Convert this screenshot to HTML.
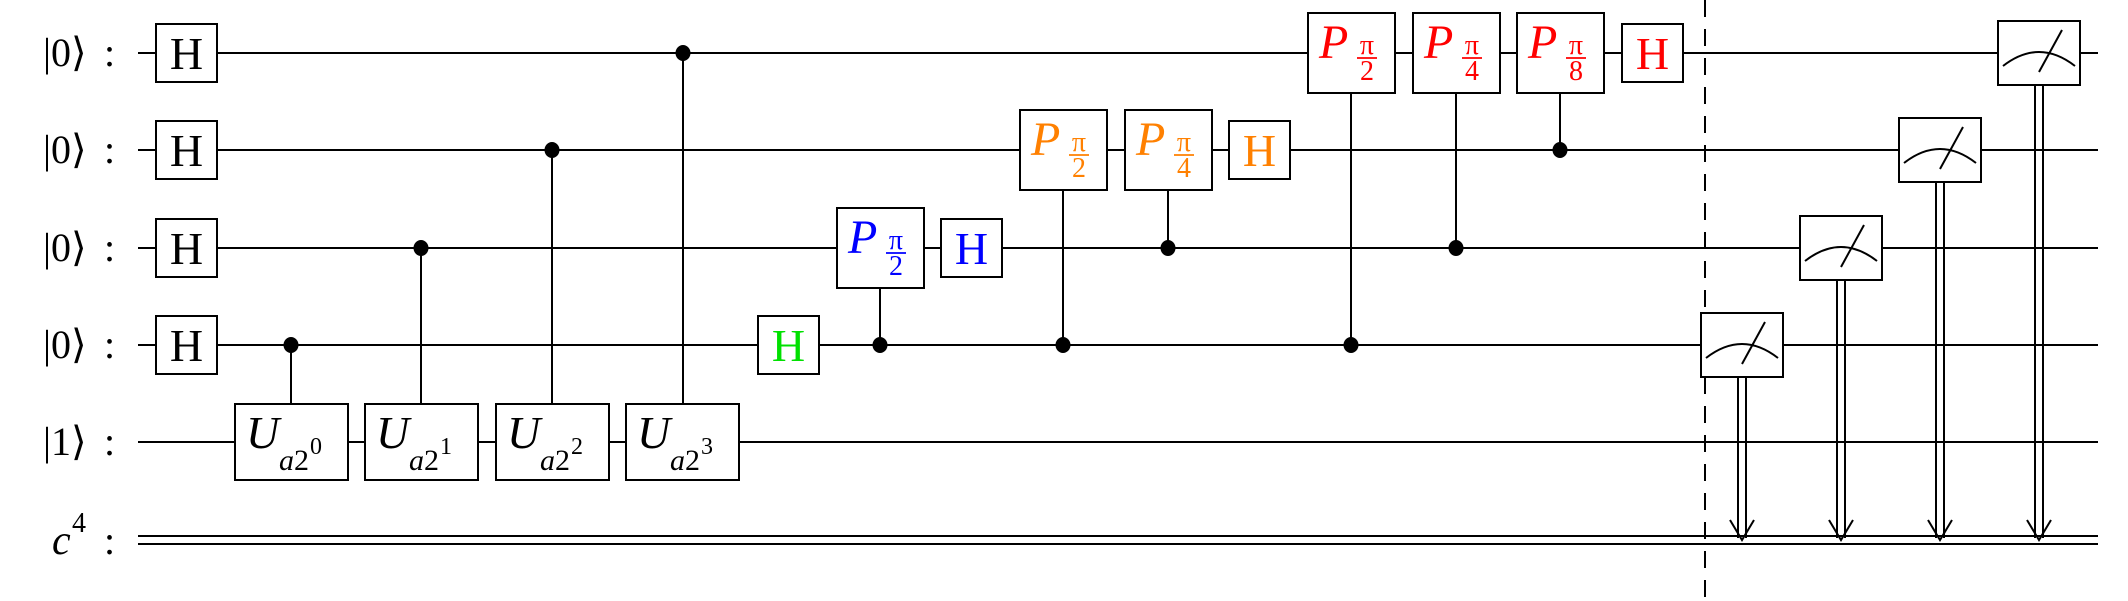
<!DOCTYPE html>
<html><head><meta charset="utf-8">
<style>
html,body{margin:0;padding:0;background:#fff;}
svg{display:block;}
text{font-family:"Liberation Serif","DejaVu Serif",serif;}
</style></head>
<body>
<svg id="c" width="2128" height="601" viewBox="0 0 2128 601" xmlns="http://www.w3.org/2000/svg"></svg>
<script>
// ---- data ----
const wireY = [53, 150, 248, 345, 442];
const classicalY = 540;
const wireLabels = ["0","0","0","0","1"];
const hGates = [ // [x-left, wire, color]
  [156,0,"#000"],[156,1,"#000"],[156,2,"#000"],[156,3,"#000"],
  [758,3,"#00e000"],[941,2,"#0000ff"],[1229,1,"#ff8000"],[1622,0,"#ff0000"]
];
const uGates = [[235,"0"],[365,"1"],[496,"2"],[626,"3"]];
const uCtrlX = [291,421,552,683];
const uCtrlWire = [3,2,1,0];
const pGates = [ // [x-left, target wire, ctrl wire, denom, color]
  [837,2,3,"2","#0000ff"],
  [1020,1,3,"2","#ff8000"],[1125,1,2,"4","#ff8000"],
  [1308,0,3,"2","#ff0000"],[1413,0,2,"4","#ff0000"],[1517,0,1,"8","#ff0000"]
];
const meters = [[1701,3],[1800,2],[1899,1],[1998,0]];
const wireStart = 138, wireEnd = 2098, barrierX = 1705;

const svg = document.getElementById('c');
const NS = "http://www.w3.org/2000/svg";
const FF = '"Liberation Serif","DejaVu Serif",serif';
function mk(tag, attrs, parent){
  const e = document.createElementNS(NS, tag);
  for (const k in attrs) e.setAttribute(k, attrs[k]);
  if (tag === 'text') e.setAttribute('font-family', FF);
  (parent||svg).appendChild(e);
  return e;
}
// wires
wireY.forEach((y,i)=>{
  const l = mk('line',{x1:wireStart,y1:y,x2:wireEnd,y2:y,stroke:'#000','stroke-width':2});
  
  
  const t = mk('text',{x:43,y:y+13,'font-size':40});
  t.textContent = '|'+wireLabels[i]+'\u27E9';
  
  
  const col = mk('text',{x:104,y:y+13,'font-size':40});
  col.textContent = ':';
  
  
});
[classicalY-4, classicalY+4].forEach(y=>{
  const l = mk('line',{x1:wireStart,y1:y,x2:wireEnd,y2:y,stroke:'#000','stroke-width':2});
  
  
});
const cl = mk('text',{x:52,y:classicalY+14,'font-size':42,'font-style':'italic'});
cl.textContent='c';


const cs = mk('text',{x:72,y:classicalY-8,'font-size':28});
cs.textContent='4';


const cc = mk('text',{x:104,y:classicalY+14,'font-size':40});
cc.textContent=':';



function dot(x,y){
  const d = mk('ellipse',{cx:x,cy:y,rx:7.5,ry:8,fill:'#000'});
  
  
}
function vline(x,y1,y2){
  const l = mk('line',{x1:x,y1:y1,x2:x,y2:y2,stroke:'#000','stroke-width':2});
  
  
}
// U gates with controls
uGates.forEach((g,i)=>{
  const x=g[0], y=wireY[4];
  vline(uCtrlX[i], wireY[uCtrlWire[i]], y-38);
  dot(uCtrlX[i], wireY[uCtrlWire[i]]);
  const r = mk('rect',{x:x,y:y-38,width:113,height:76,fill:'#fff',stroke:'#000','stroke-width':2});
  
  
  const t = mk('text',{x:x+11,y:y+6,'font-size':46,'font-style':'italic'});
  t.textContent='U';
  
  
  const a = mk('text',{x:x+44,y:y+28,'font-size':30,'font-style':'italic'});
  a.textContent='a';
  
  
  const b = mk('text',{x:x+59,y:y+28,'font-size':30});
  b.textContent='2';
  
  
  const e = mk('text',{x:x+75,y:y+12,'font-size':24});
  e.textContent=g[1];
  
  
});
// P gates
pGates.forEach((g,i)=>{
  const x=g[0], y=wireY[g[1]], cy=wireY[g[2]];
  vline(x+43, y+40, cy);
  dot(x+43, cy);
  const r = mk('rect',{x:x,y:y-40,width:87,height:80,fill:'#fff',stroke:'#000','stroke-width':2});
  
  
  const p = mk('text',{x:x+11,y:y+5,'font-size':48,'font-style':'italic',fill:g[4]});
  p.textContent='P';
  
  
  const fx = x+59;
  const pi = mk('text',{x:fx,y:y+1,'font-size':28,fill:g[4],'text-anchor':'middle'});
  pi.textContent='\u03C0';
  
  
  const bar = mk('line',{x1:fx-10,y1:y+5,x2:fx+10,y2:y+5,stroke:g[4],'stroke-width':1.8});
  
  
  const d = mk('text',{x:fx,y:y+27,'font-size':28,fill:g[4],'text-anchor':'middle'});
  d.textContent=g[3];
  
  
});
// H gates
hGates.forEach((g,i)=>{
  const x=g[0], y=wireY[g[1]];
  const r = mk('rect',{x:x,y:y-29,width:61,height:58,fill:'#fff',stroke:'#000','stroke-width':2});
  
  
  const t = mk('text',{x:x+30.5,y:y+16,'font-size':46,'text-anchor':'middle',fill:g[2]});
  t.textContent='H';
  
  
});
// barrier
const bl = mk('line',{x1:barrierX,y1:0,x2:barrierX,y2:598,stroke:'#000','stroke-width':2,'stroke-dasharray':'17 12'});


// meters
meters.forEach((m,i)=>{
  const x=m[0], y=wireY[m[1]], cx=x+41;
  [cx-4,cx+4].forEach(lx=>{
    const l = mk('line',{x1:lx,y1:y+32,x2:lx,y2:classicalY-2,stroke:'#000','stroke-width':2});
    
    
  });
  const ah = mk('polyline',{points:`${cx-12},${classicalY-20} ${cx},${classicalY} ${cx+12},${classicalY-20}`,fill:'none',stroke:'#000','stroke-width':2});
  
  
  const r = mk('rect',{x:x,y:y-32,width:82,height:64,fill:'#fff',stroke:'#000','stroke-width':2});
  
  
  const arc = mk('path',{d:`M${x+5},${y+13} Q${cx},${y-15} ${x+77},${y+13}`,fill:'none',stroke:'#000','stroke-width':2});
  
  
  const n = mk('line',{x1:cx,y1:y+19,x2:cx+23,y2:y-23,stroke:'#000','stroke-width':2});
  
  
});
</script>
</body></html>
